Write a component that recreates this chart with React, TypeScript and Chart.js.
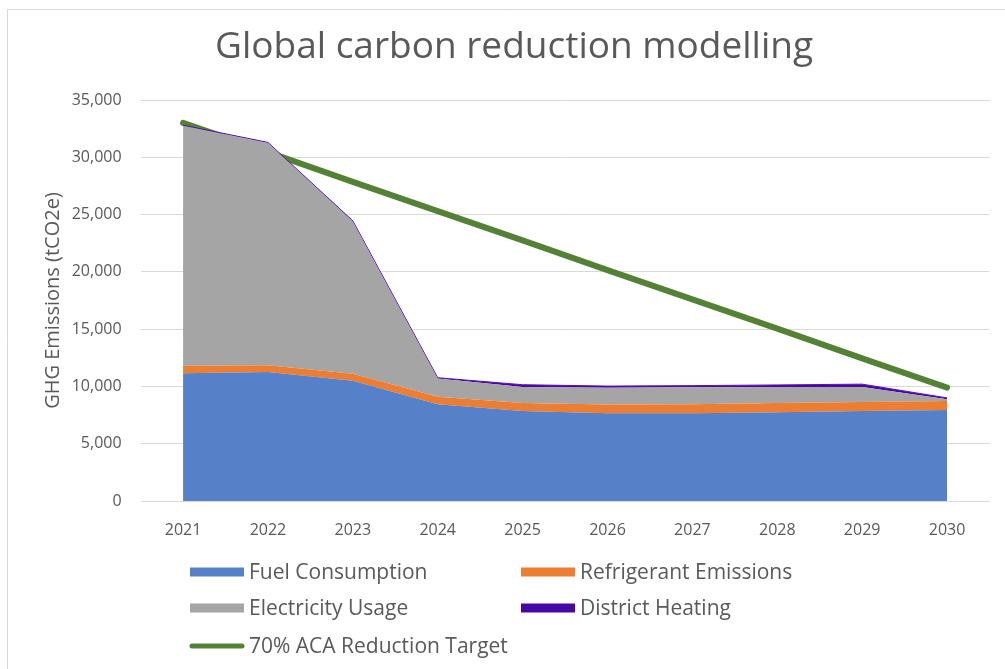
import React, { useEffect, useRef } from "react";
import { Chart, registerables } from "chart.js";

Chart.register(...registerables);

const years = ["2021", "2022", "2023", "2024", "2025", "2026", "2027", "2028", "2029", "2030"];
const fuelConsumption = [11150, 11250, 10500, 8450, 7850, 7650, 7650, 7750, 7850, 7950];
const refrigerantEmissions = [650, 600, 600, 650, 700, 780, 790, 800, 800, 780];
const electricityUsage = [20950, 19400, 13300, 1600, 1400, 1450, 1480, 1400, 1300, 150];
const districtHeating = [50, 50, 50, 60, 200, 150, 150, 180, 250, 120];
const reductionTarget = [33000, 30450, 27850, 25300, 22750, 20150, 17600, 15050, 12450, 9900];
const yTicks = [0, 5000, 10000, 15000, 20000, 25000, 30000, 35000];

const TITLE = "Global carbon reduction modelling";
const Y_TITLE = "GHG Emissions (tCO2e)";
const FONT = "'Open Sans', 'Noto Sans', sans-serif";
const TEXT = "#595959";
const GRID = "#d9d9d9";

const framePlugin = {
  id: "frame",
  afterDraw(chart: any) {
    const ctx = chart.ctx;
    ctx.save();
    // border
    ctx.strokeStyle = "#d9d9d9";
    ctx.lineWidth = 1;
    ctx.beginPath();
    ctx.moveTo(7.5, 700);
    ctx.lineTo(7.5, 9.5);
    ctx.lineTo(1010, 9.5);
    ctx.stroke();
    // title
    ctx.fillStyle = TEXT;
    ctx.font = `37px ${FONT}`;
    ctx.textAlign = "center";
    ctx.textBaseline = "middle";
    ctx.fillText(TITLE, 514, 47);
    // legend
    const colX = [190, 521];
    const rowY = [572, 608, 646];
    ctx.font = `21px ${FONT}`;
    ctx.textAlign = "left";
    chart.data.datasets.forEach((ds: any, i: number) => {
      const col = i % 2;
      const row = Math.floor(i / 2);
      const x = colX[col];
      const y = rowY[row];
      if (ds.isTarget) {
        ctx.strokeStyle = ds.borderColor;
        ctx.lineWidth = 5;
        ctx.lineCap = "round";
        ctx.beginPath();
        ctx.moveTo(x + 2, y);
        ctx.lineTo(x + 52, y);
        ctx.stroke();
      } else {
        ctx.fillStyle = ds.legendColor;
        ctx.fillRect(x, y - 4.5, 54, 9);
      }
      ctx.fillStyle = TEXT;
      ctx.fillText(ds.label, x + 59, y + 1);
    });
    ctx.restore();
  },
};

export default function App() {
  const ref = useRef<HTMLCanvasElement | null>(null);

  useEffect(() => {
    document.body.style.margin = "0";
    const canvas = ref.current;
    if (!canvas) return;
    const chart = new Chart(canvas, {
      type: "line",
      data: {
        labels: years,
        datasets: [
          {
            label: "Fuel Consumption",
            data: fuelConsumption,
            backgroundColor: "#5681C9",
            borderWidth: 0,
            fill: "origin",
            legendColor: "#5681C9",
          } as any,
          {
            label: "Refrigerant Emissions",
            data: refrigerantEmissions,
            backgroundColor: "#ED7D31",
            borderWidth: 0,
            fill: "-1",
            legendColor: "#ED7D31",
          } as any,
          {
            label: "Electricity Usage",
            data: electricityUsage,
            backgroundColor: "#A5A5A5",
            borderWidth: 0,
            fill: "-1",
            legendColor: "#A5A5A5",
          } as any,
          {
            label: "District Heating",
            data: districtHeating,
            backgroundColor: "#4A06A3",
            borderColor: "#5A10B8",
            borderWidth: 1,
            fill: "-1",
            legendColor: "#4A06A3",
          } as any,
          {
            label: "70% ACA Reduction Target",
            data: reductionTarget,
            borderColor: "#548235",
            borderWidth: 6,
            borderCapStyle: "round",
            fill: false,
            stack: "target",
            isTarget: true,
          } as any,
        ],
      },
      options: {
        responsive: false,
        animation: false,
        events: [],
        elements: { point: { radius: 0, hoverRadius: 0 }, line: { tension: 0 } },
        layout: { padding: { left: 0, right: 15.5, top: 100, bottom: 0 } },
        plugins: {
          legend: { display: false },
          title: { display: false },
          tooltip: { enabled: false },
        },
        scales: {
          x: {
            offset: true,
            grid: { display: false },
            border: { display: false },
            ticks: {
              color: TEXT,
              font: { family: FONT, size: 16 },
              padding: 12,
              maxRotation: 0,
            },
            afterFit(scale: any) {
              scale.height = 168;
            },
          },
          y: {
            stacked: true,
            min: 0,
            max: 35000,
            border: { display: false },
            grid: { color: GRID, lineWidth: 1, drawTicks: false },
            afterBuildTicks(scale: any) {
              scale.ticks = yTicks.map((v) => ({ value: v }));
            },
            ticks: {
              color: TEXT,
              font: { family: FONT, size: 16 },
              padding: 19,
              callback: (v: any) => Number(v).toLocaleString("en-US"),
            },
            title: {
              display: true,
              text: Y_TITLE,
              color: TEXT,
              font: { family: FONT, size: 20 },
              padding: { top: 41, bottom: 0 },
            },
            afterFit(scale: any) {
              scale.width = 140.6;
            },
          },
        },
      },
      plugins: [framePlugin],
    });
    return () => chart.destroy();
  }, []);

  return (
    <div style={{ position: "absolute", left: 0, top: 0, width: 1005, height: 669, background: "#fff" }}>
      <canvas ref={ref} width={1005} height={669} style={{ display: "block" }} />
    </div>
  );
}
